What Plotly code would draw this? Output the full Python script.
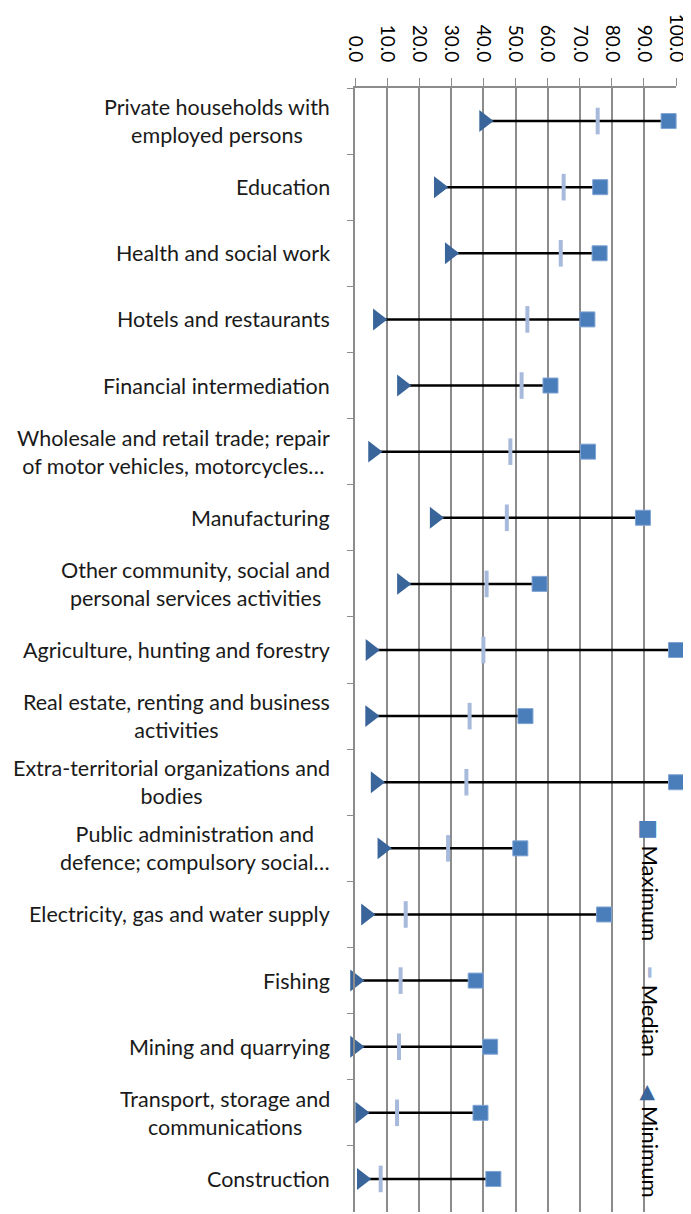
import plotly.graph_objects as go

# categories top to bottom
categories = [
    "Private households with<br>employed persons",
    "Education",
    "Health and social work",
    "Hotels and restaurants",
    "Financial intermediation",
    "Wholesale and retail trade; repair<br>of motor vehicles, motorcycles…",
    "Manufacturing",
    "Other community, social and<br>personal services activities",
    "Agriculture, hunting and forestry",
    "Real estate, renting and business<br>activities",
    "Extra-territorial organizations and<br>bodies",
    "Public administration and<br>defence; compulsory social…",
    "Electricity, gas and water supply",
    "Fishing",
    "Mining and quarrying",
    "Transport, storage and<br>communications",
    "Construction",
]
maximum = [97.7, 76.4, 76.2, 72.4, 60.9, 72.6, 89.7, 57.5, 100.0, 53.1,
           100.0, 51.5, 77.6, 37.6, 42.1, 39.1, 43.1]
median = [75.6, 65.0, 64.1, 53.7, 51.9, 48.4, 47.3, 41.0, 40.0, 35.7,
          34.7, 29.0, 15.8, 14.2, 13.7, 13.1, 8.0]
minimum = [40.2, 26.1, 29.5, 7.1, 14.6, 5.6, 24.8, 14.6, 4.8, 4.7,
           6.4, 8.5, 3.4, 0.0, 0.0, 1.6, 2.1]
x_ticks = [0, 10, 20, 30, 40, 50, 60, 70, 80, 90, 100]

FONT = "Lato, Open Sans, sans-serif"
C_MAX = "#4A7EBB"
C_MED = "#A7BADB"
C_MIN = "#3A659A"
GRID = "#8C8C8C"

# page body has an 8px margin, so the figure is drawn 8px smaller
W, H = 683, 1206
L, R, T, B = 347, 15, 80, 2

fig = go.Figure()

# min-max connecting lines
lx, ly = [], []
for c, lo, hi in zip(categories, minimum, maximum):
    lx += [lo, hi, None]
    ly += [c, c, None]
fig.add_trace(go.Scatter(x=lx, y=ly, mode="lines", line=dict(color="black", width=2.5),
                         showlegend=False, hoverinfo="skip", cliponaxis=False))

fig.add_trace(go.Scatter(x=median, y=categories, mode="markers", name="Median",
                         marker=dict(symbol="line-ns", size=19, line=dict(width=4, color=C_MED)),
                         cliponaxis=False))
fig.add_trace(go.Scatter(x=maximum, y=categories, mode="markers", name="Maximum",
                         marker=dict(symbol="square", size=15, color=C_MAX,
                                     line=dict(width=1, color="#7FA3D3")),
                         cliponaxis=False))
fig.add_trace(go.Scatter(x=minimum, y=categories, mode="markers", name="Minimum",
                         marker=dict(symbol="triangle-right", size=19, color=C_MIN),
                         cliponaxis=False))

# category labels, centred lines like the original
for c in categories:
    fig.add_annotation(x=0, xref="paper", y=c, yref="y", text=c, showarrow=False,
                       xanchor="right", align="center", xshift=-23,
                       font=dict(family=FONT, size=21.5, color="#1a1a1a"))

# rotated legend (positions in page pixels)
plot_w = W - L - R
plot_h = H - T - B
legend_items = [
    ("■", C_MAX, "Maximum", 880, 22),
    ("<b>–</b>", C_MED, "Median", 1011, 26),
    ("◀", C_MIN, "Minimum", 1141, 20),
]
for sym, col, name, ypx, sz in legend_items:
    fig.add_annotation(
        x=(651 - 8 - L) / plot_w, xref="paper",
        y=1 - (ypx - 8 - T) / plot_h, yref="paper",
        text=f"<span style='color:{col};font-family:DejaVu Sans;font-size:{sz}px'>{sym}</span> {name}",
        showarrow=False, textangle=90, xanchor="center", yanchor="middle",
        font=dict(family=FONT, size=22, color="black"))

fig.update_xaxes(range=[0, 100], side="top", tickvals=x_ticks, tickformat=".1f",
                 tickangle=90, ticks="outside", ticklen=8, tickcolor=GRID,
                 ticklabelstandoff=9,
                 showline=True, linecolor=GRID, linewidth=2,
                 showgrid=True, gridcolor=GRID, gridwidth=2, zeroline=False,
                 tickfont=dict(family=FONT, size=19, color="black"))
fig.update_yaxes(type="category", categoryorder="array", categoryarray=categories,
                 range=[len(categories) - 0.5, -0.5], showticklabels=False, ticks="outside",
                 tickson="boundaries", ticklen=6, tickcolor=GRID,
                 showline=True, linecolor=GRID, linewidth=2, showgrid=False)

fig.update_layout(width=W, height=H, showlegend=False,
                  margin=dict(l=L, r=R, t=T, b=B, autoexpand=False),
                  paper_bgcolor="white", plot_bgcolor="white")

fig.write_html("out.html")
